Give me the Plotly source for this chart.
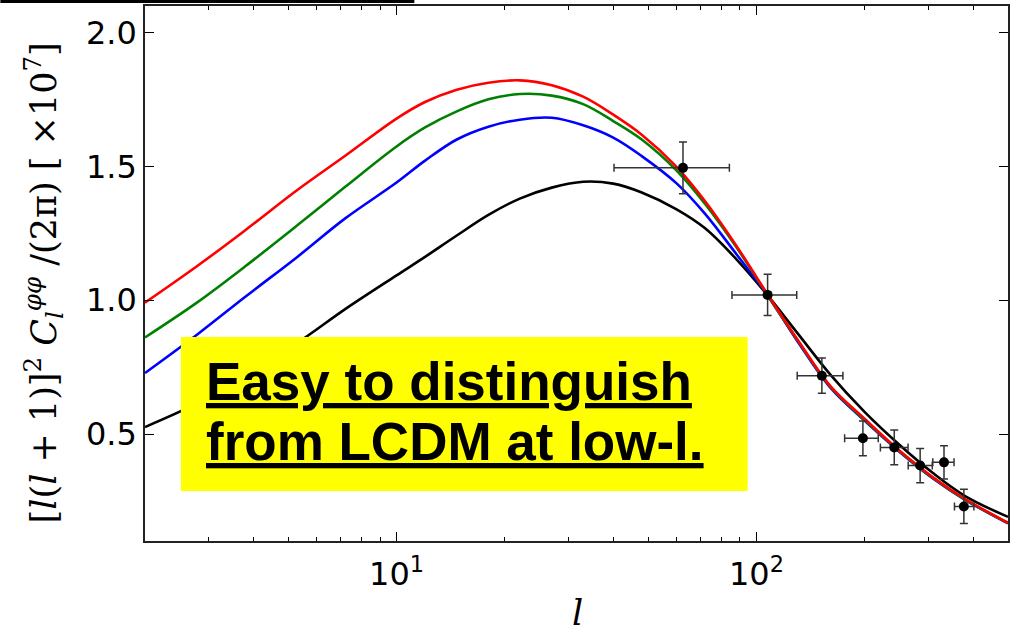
import plotly.graph_objects as go
import numpy as np

# ---- data ----
ell = [2, 2.8, 3.8, 5.3, 7.2, 10, 12, 14.7, 18, 22, 27, 33, 40, 48, 60, 72, 88,
       107, 130, 160, 200, 250, 310, 380, 500]

cl_black = [0.526, 0.616, 0.724, 0.841, 0.967, 1.093, 1.162, 1.242, 1.319, 1.380,
            1.421, 1.443, 1.436, 1.403, 1.340, 1.269, 1.153, 1.021, 0.877, 0.724,
            0.582, 0.459, 0.353, 0.268, 0.190]
cl_blue = [0.728, 0.873, 1.013, 1.162, 1.306, 1.440, 1.522, 1.601, 1.649, 1.675,
           1.682, 1.654, 1.608, 1.539, 1.437, 1.323, 1.172, 1.021, 0.847, 0.675,
           0.549, 0.433, 0.333, 0.254, 0.166]
cl_green = [0.861, 0.993, 1.127, 1.280, 1.424, 1.575, 1.646, 1.706, 1.751, 1.771,
            1.765, 1.733, 1.670, 1.601, 1.485, 1.360, 1.198, 1.022, 0.851, 0.679,
            0.552, 0.435, 0.335, 0.255, 0.167]
cl_red = [0.991, 1.129, 1.262, 1.412, 1.540, 1.679, 1.741, 1.787, 1.813, 1.822,
          1.804, 1.761, 1.694, 1.619, 1.499, 1.370, 1.203, 1.025, 0.853, 0.681,
          0.556, 0.437, 0.337, 0.257, 0.168]

data_l = [62.5, 107.4, 152, 197.6, 241.5, 285, 332, 377]
data_cl = [1.495, 1.020, 0.718, 0.484, 0.450, 0.382, 0.394, 0.229]
data_l_lo = [40.2, 85.5, 129.8, 175.8, 221, 264, 309, 355]
data_l_hi = [84.1, 129.4, 173.9, 218, 263.8, 308, 354, 402]
data_err = [0.097, 0.077, 0.066, 0.065, 0.065, 0.064, 0.062, 0.064]

x_major = [10, 100]
x_major_text = ["10<sup>1</sup>", "10<sup>2</sup>"]
x_minor = [3, 4, 5, 6, 7, 8, 9, 20, 30, 40, 50, 60, 70, 80, 90, 200, 300, 400]
y_ticks = [0.5, 1.0, 1.5, 2.0]

annot_lines = ["Easy to distinguish", "from LCDM at low-l."]

# ---- figure ----
fig = go.Figure()
for vals, col in [(cl_black, "#000000"), (cl_blue, "#0000ff"),
                  (cl_green, "#008000"), (cl_red, "#ff0000")]:
    fig.add_trace(go.Scatter(x=ell, y=vals, mode="lines",
                             line=dict(color=col, width=2.6, shape="spline", smoothing=1.0),
                             showlegend=False, hoverinfo="skip"))

dl = np.array(data_l)
fig.add_trace(go.Scatter(
    x=data_l, y=data_cl, mode="markers",
    marker=dict(color="black", size=10),
    error_x=dict(type="data", symmetric=False,
                 array=list(np.array(data_l_hi) - dl),
                 arrayminus=list(dl - np.array(data_l_lo)),
                 color="#333333", thickness=1.5, width=4),
    error_y=dict(type="data", array=data_err, color="#333333", thickness=1.5, width=4),
    showlegend=False))

axis_font = dict(family="DejaVu Sans", size=32, color="black")
fig.update_layout(
    width=1012, height=635,
    margin=dict(l=145, r=2, t=6, b=94),
    paper_bgcolor="white", plot_bgcolor="white",
    xaxis=dict(type="log", range=[np.log10(2), np.log10(500)],
               tickvals=x_major, ticktext=x_major_text,
               ticks="inside", ticklen=9, tickwidth=1, tickcolor="black",
               minor=dict(tickvals=x_minor, ticks="inside", ticklen=4.5,
                          tickwidth=1, tickcolor="black", showgrid=False),
               showgrid=False, zeroline=False, showline=True, linecolor="#222222",
               linewidth=1.5, mirror="allticks", tickfont=axis_font,
               ticklabelstandoff=4),
    yaxis=dict(range=[0.1, 2.1], tickvals=y_ticks, tickformat=".1f",
               ticks="inside", ticklen=9, tickwidth=1, tickcolor="black",
               showgrid=False, zeroline=False, showline=True, linecolor="#222222",
               linewidth=1.5, mirror="allticks", tickfont=axis_font),
)

# yellow box
fig.add_shape(type="rect", xref="paper", yref="paper",
              x0=0.0416, x1=0.6983, y0=0.0935, y1=0.3813,
              fillcolor="#ffff00", line=dict(width=0), layer="above")
# black strip at top-left (slide artefact)
fig.add_shape(type="rect", xref="paper", yref="paper",
              x0=-0.1676, x1=0.3121, y0=1.0056, y1=1.02,
              fillcolor="black", line=dict(width=0), layer="above")

for txt, yc in zip(annot_lines, [0.298, 0.1858]):
    fig.add_annotation(xref="paper", yref="paper", x=0.0694, y=yc,
                       xanchor="left", yanchor="middle", showarrow=False,
                       borderpad=0, text="<b><u>" + txt + "</u></b>",
                       font=dict(family="Liberation Sans", size=53, color="black"))

# axis titles
fig.add_annotation(xref="paper", yref="paper", x=-0.1179, y=0.482,
                   xanchor="center", yanchor="middle", showarrow=False, textangle=-90,
                   text="[<i>l</i>(<i>l</i> + 1)]<sup>2</sup> <i>C</i><sub><i>l</i></sub><sup><i>φφ</i></sup> /(2π) [ ×10<sup>7</sup>]",
                   font=dict(family="DejaVu Serif", size=35, color="black"))
fig.add_annotation(xref="paper", yref="paper", x=0.5006, y=-0.1757,
                   xanchor="center", yanchor="bottom", showarrow=False,
                   text="<i>l</i>",
                   font=dict(family="DejaVu Serif", size=35, color="black"))

fig.write_html("out.html")
